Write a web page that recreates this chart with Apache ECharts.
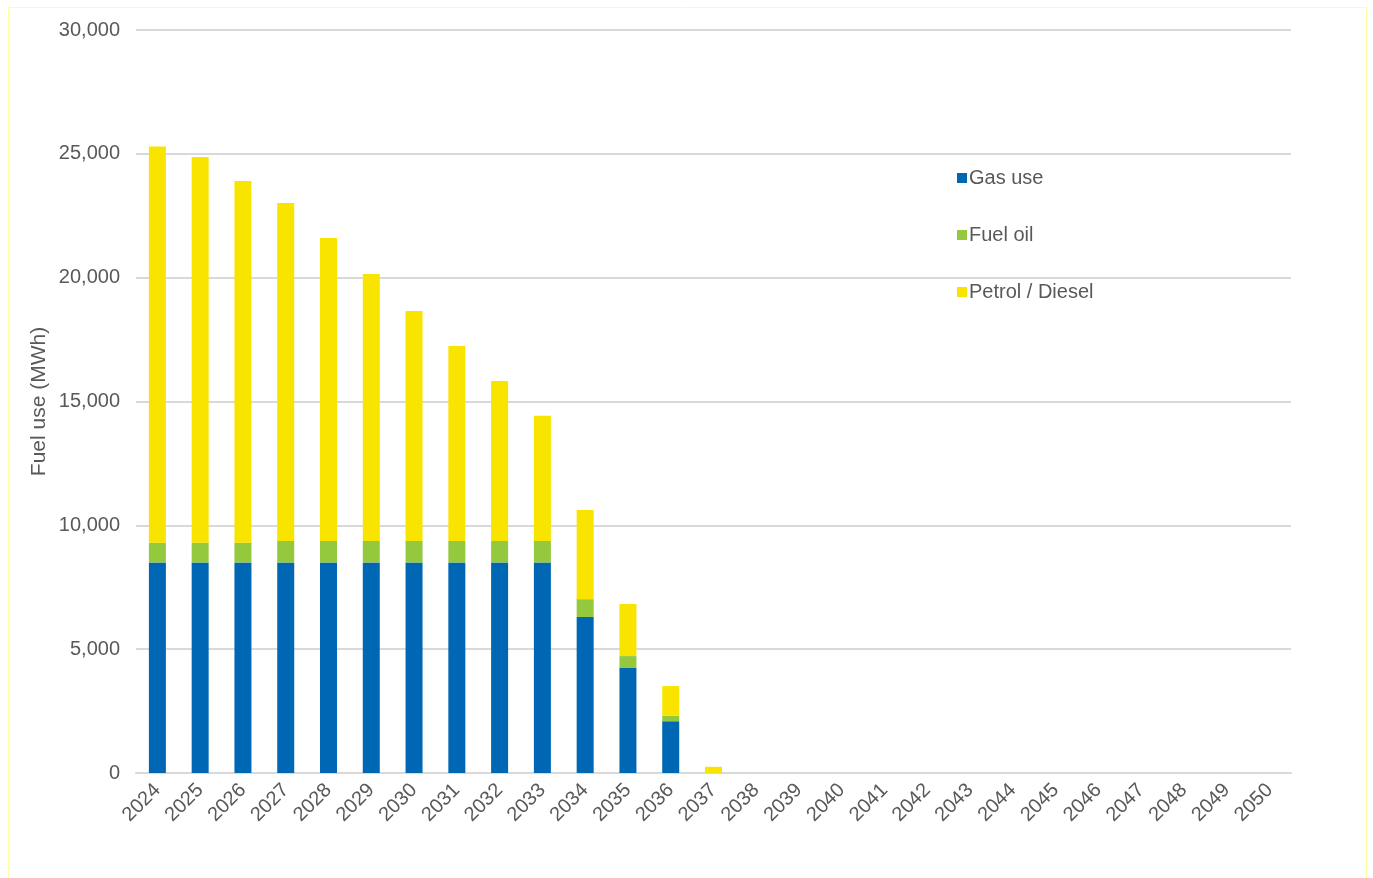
<!DOCTYPE html>
<html>
<head>
<meta charset="utf-8">
<script src="https://cdn.jsdelivr.net/npm/echarts@6/dist/echarts.min.js"></script>
<style>
  html, body { margin: 0; padding: 0; background: #fff; }
  #main { width: 1373px; height: 878px; }
</style>
</head>
<body>
<div id="main"></div>
<script>
var years = [];
for (var y = 2024; y <= 2050; y++) years.push(String(y));

// MWh
var gasUse  = [8500, 8500, 8500, 8500, 8500, 8500, 8500, 8500, 8500, 8500, 6300, 4240, 2090, 0];
var fuelOil = [800, 800, 800, 870, 870, 870, 870, 870, 870, 870, 720, 480, 220, 0];
var petrol  = [16000, 15570, 14600, 13640, 12230, 10780, 9280, 7870, 6460, 5050, 3600, 2100, 1200, 250];

var yTicks = [0, 5000, 10000, 15000, 20000, 25000, 30000];

var myChart = echarts.init(document.getElementById('main'));
var txt = '#595959';

var option = {
    animation: false,
    backgroundColor: '#fff',
    textStyle: { fontFamily: 'Liberation Sans, Arial, sans-serif' },
    graphic: [{
        type: 'rect',
        shape: { x: 8.5, y: 7.5, width: 1358, height: 900 },
        style: { fill: 'none', stroke: '#ffff9e', lineWidth: 1 }
    }],
    grid: { left: 136, right: 82, top: 30, bottom: 105 },
    legend: {
        orient: 'vertical',
        left: 952,
        top: 163,
        itemWidth: 10,
        itemHeight: 10,
        itemGap: 37,
        icon: 'rect',
        textStyle: { color: txt, fontSize: 20, padding: [0, 0, 0, -3] },
        data: ['Gas use', 'Fuel oil', 'Petrol / Diesel']
    },
    xAxis: {
        type: 'category',
        data: years,
        axisLine: { lineStyle: { color: '#d9d9d9', width: 2 } },
        axisTick: { show: false },
        axisLabel: { color: txt, fontSize: 20, rotate: 45, interval: 0, margin: 14 }
    },
    yAxis: {
        type: 'value',
        min: yTicks[0],
        max: yTicks[yTicks.length - 1],
        interval: 5000,
        name: 'Fuel use (MWh)',
        nameLocation: 'middle',
        nameGap: 86,
        nameMoveOverlap: false,
        nameTextStyle: { color: txt, fontSize: 21 },
        axisLine: { show: false },
        axisTick: { show: false },
        axisLabel: {
            color: txt, fontSize: 20, margin: 16,
            formatter: function (v) { return v.toLocaleString('en-US'); }
        },
        splitLine: { lineStyle: { color: '#d9d9d9', width: 2 } }
    },
    series: [
        { name: 'Gas use', type: 'bar', stack: 'fuel', data: gasUse, barWidth: 17,
          itemStyle: { color: '#0067b4' } },
        { name: 'Fuel oil', type: 'bar', stack: 'fuel', data: fuelOil, barWidth: 17,
          itemStyle: { color: '#94c83d' } },
        { name: 'Petrol / Diesel', type: 'bar', stack: 'fuel', data: petrol, barWidth: 17,
          itemStyle: { color: '#f9e400' } }
    ]
};
myChart.setOption(option);
</script>
</body>
</html>
